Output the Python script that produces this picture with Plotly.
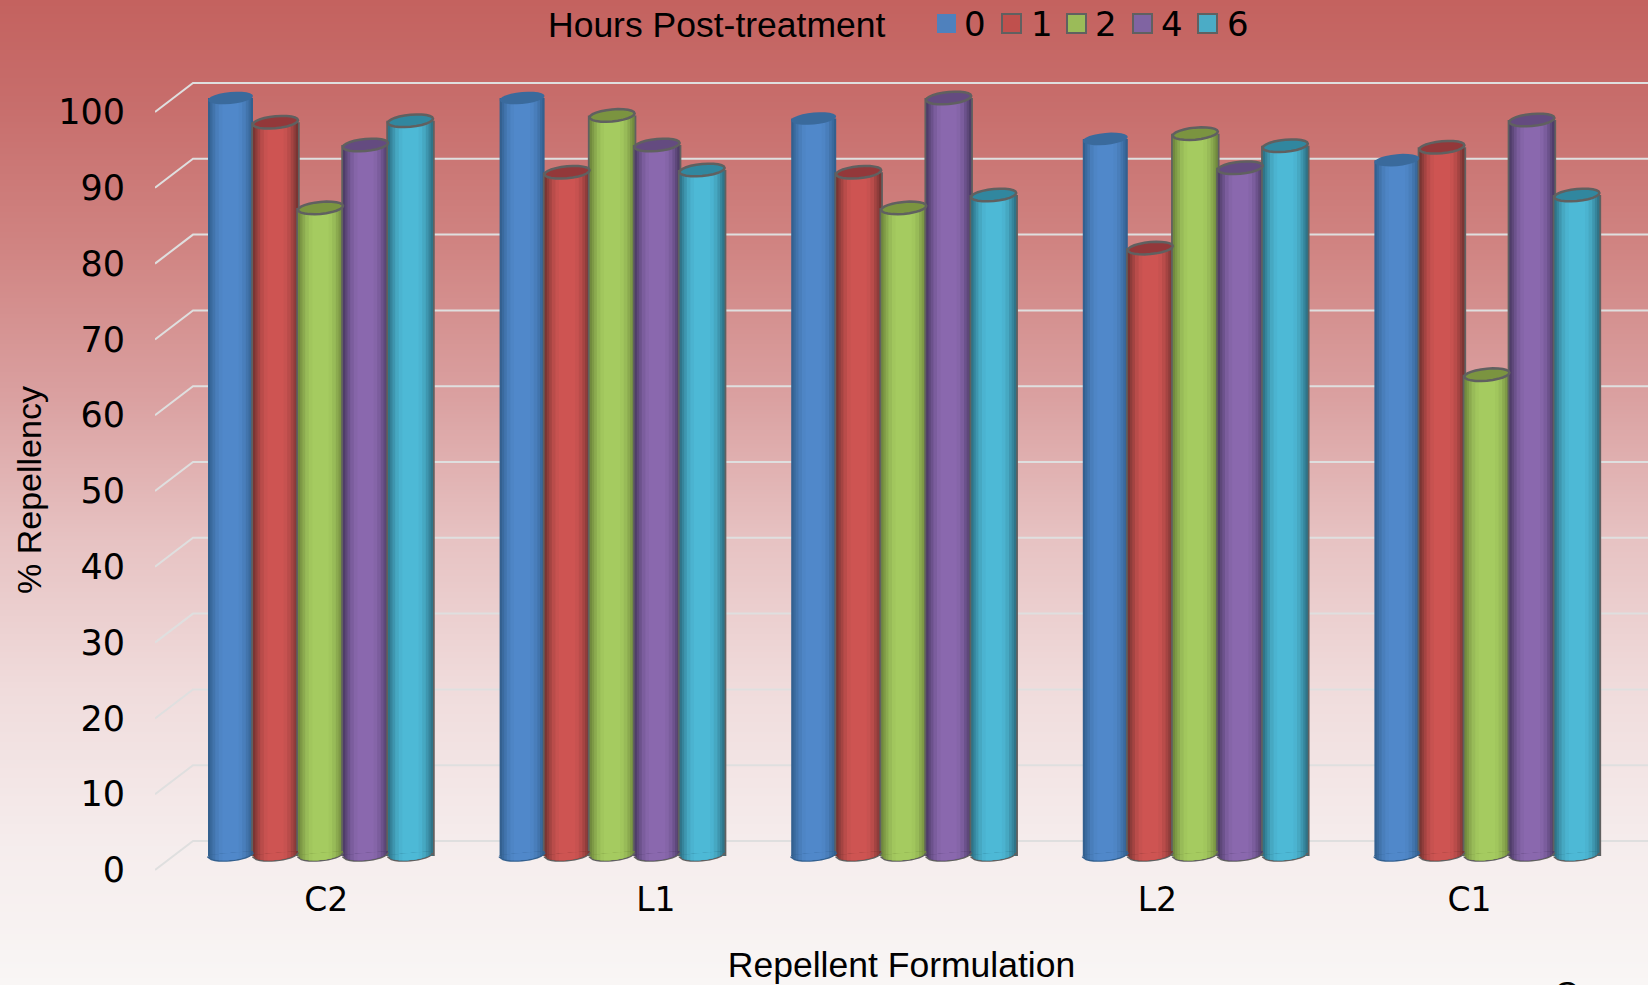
import math
import plotly.graph_objects as go

# ---- data ----
categories = ["C2", "L1", "", "L2", "C1"]
label_positions = [0.02, 1.15, 2.0, 2.87, 3.94]   # the category labels sit off-centre in the source
hours = ["0", "1", "2", "4", "6"]
legend_title = "Hours Post-treatment"
h0 = [100, 100, 97.3, 94.6, 91.8]
h1 = [96.8, 90.2, 90.2, 80.2, 93.5]
h2 = [85.5, 97.7, 85.5, 95.3, 63.5]
h4 = [93.8, 93.8, 100, 90.8, 97.1]
h6 = [97, 90.5, 87.2, 93.7, 87.2]
series = [h0, h1, h2, h4, h6]
y_ticks = [0, 10, 20, 30, 40, 50, 60, 70, 80, 90, 100]

legend_colors = ["#4f81bd", "#c0504d", "#9bbb59", "#8064a2", "#4bacc6"]
edge_colors = ["#33608f", "#7a3533", "#718a3e", "#4f3d69", "#2f7488"]
center_colors = ["#5088ca", "#ce5452", "#a5cb60", "#8a68ae", "#4db9d6"]
top_colors = ["#3a6a9c", "#93383a", "#7b9440", "#644b80", "#31879f"]
outline = "#606060"
grid_color = "#dfdfdf"

# ---- geometry of the pseudo-3D drawing ----
W, H = 1648, 985
L_PX, R_PX = 155, 1648
T_PX, B_PX = 72, 877
Y0_PX, PX_PER_UNIT = 870, 7.58
X0_PX, PX_PER_GROUP = 320.5, 291.6
SLOT = 45.0 / PX_PER_GROUP
BASE = 14 / PX_PER_UNIT
DEPTH_Y = 29 / PX_PER_UNIT
DEPTH_X = 38 / PX_PER_GROUP
A_PX, B_ELL_PX, TILT = 22.5, 6.0, 0.09
LEGEND_SWATCH_PX = [937, 1002, 1067, 1133, 1198]
LEGEND_TEXT_PX = [975, 1042, 1106, 1172, 1238]
FONT_T = "DejaVu Sans"
FONT_S = "Liberation Sans"

x_lo = (L_PX - X0_PX) / PX_PER_GROUP
x_hi = (R_PX - X0_PX) / PX_PER_GROUP
y_lo = -(B_PX - Y0_PX) / PX_PER_UNIT
y_hi = (Y0_PX - T_PX) / PX_PER_UNIT


def hexrgb(c):
    return tuple(int(c[i:i + 2], 16) for i in (1, 3, 5))


def mix(c1, c2, t):
    a, b = hexrgb(c1), hexrgb(c2)
    return "rgb(%d,%d,%d)" % tuple(round(a[i] + (b[i] - a[i]) * t) for i in range(3))


def ellipse_pt(cx, cy, u, v):
    """u, v in [-1, 1]: position on the tilted ellipse; v>0 is towards the viewer (lower)."""
    dx = A_PX * u
    dy = -B_ELL_PX * v + TILT * dx
    return cx + dx / PX_PER_GROUP, cy + dy / PX_PER_UNIT


def path(points):
    return "M" + " L".join("%.5f,%.4f" % p for p in points) + " Z"


ANGLES = [i / 24 for i in range(25)]


def ellipse_path(cx, cy):
    return path([ellipse_pt(cx, cy, math.cos(2 * math.pi * t), math.sin(2 * math.pi * t)) for t in ANGLES])


def crescent_path(cx, cy, f):
    pts = []
    for i in range(13):
        u = -f + 2 * f * i / 12
        pts.append(ellipse_pt(cx, cy, u, math.sqrt(max(0.0, 1 - u * u))))
    pts.append(ellipse_pt(cx, cy + 1 / PX_PER_UNIT, f, 0.0))
    pts.append(ellipse_pt(cx, cy + 1 / PX_PER_UNIT, -f, 0.0))
    return path(pts)


shade_layers = [(1.0, 0.0), (0.9, 0.25), (0.8, 0.5), (0.68, 0.75), (0.52, 0.92), (0.36, 1.0)]

stops = [(0, "#c4625f"), (0.1, "#c76d6b"), (0.25, "#d08482"), (0.4, "#daa0a0"),
         (0.55, "#e7c3c3"), (0.7, "#f0dcdc"), (0.85, "#f5ecec"), (1, "#f9f6f5")]


def bg_color(t):
    for (a, ca), (b, cb) in zip(stops, stops[1:]):
        if t <= b:
            return mix(ca, cb, (t - a) / (b - a))
    return stops[-1][1]


def paper_y(px):
    return 1 - px / H


def paper_x(px):
    return px / W


shapes = []
# page background gradient
for py in range(0, H, 2):
    shapes.append(dict(type="rect", xref="paper", yref="paper", layer="below",
                       x0=0, x1=1, y0=paper_y(py), y1=0,
                       line_width=0, fillcolor=bg_color(py / H)))
# gridlines: a slanted floor part then the back wall
for v in y_ticks:
    shapes.append(dict(type="path", xref="x", yref="y", layer="below",
                       path="M%.5f,%.4f L%.5f,%.4f L%.5f,%.4f" % (x_lo, v, x_lo + DEPTH_X, v + DEPTH_Y, x_hi, v + DEPTH_Y),
                       line=dict(color=grid_color, width=2)))

fig = go.Figure()
top_shapes = []
for s, vals in enumerate(series):
    xs = [g + (s - 2) * SLOT for g in range(len(vals))]
    has_line = s != 0
    if has_line:
        fig.add_trace(go.Bar(x=xs, y=vals, base=BASE, width=SLOT + 3.5 / PX_PER_GROUP, name=hours[s],
                             marker=dict(color=outline, line_width=0), hoverinfo="skip"))
    for f, t in shade_layers:
        col = mix(edge_colors[s], center_colors[s], t)
        fig.add_trace(go.Bar(x=xs, y=vals, base=BASE, width=SLOT * f, name=hours[s],
                             marker=dict(color=col, line_width=0), hoverinfo="skip"))
    for x, v in zip(xs, vals):
        top_shapes.append(dict(type="path", xref="x", yref="y", layer="above",
                               path=crescent_path(x, BASE + 0.5 / PX_PER_UNIT, 1.04),
                               line_width=0, fillcolor=outline if has_line else edge_colors[s]))
        for f, t in shade_layers:
            top_shapes.append(dict(type="path", xref="x", yref="y", layer="above",
                                   path=crescent_path(x, BASE + 2 / PX_PER_UNIT, f),
                                   line_width=0, fillcolor=mix(edge_colors[s], center_colors[s], t)))
        top_shapes.append(dict(type="path", xref="x", yref="y", layer="above", path=ellipse_path(x, v + BASE),
                               fillcolor=top_colors[s],
                               line=dict(color=outline, width=2.5 if has_line else 0)))

# empty trace that brings in a page-tall helper axis for the clipped character at the bottom
fig.add_trace(go.Scatter(x=[], y=[], yaxis="y2", showlegend=False, hoverinfo="skip"))

# legend, placed by hand: the native one cannot sit this close to the top edge
legend_shapes = []
legend_notes = [dict(text=legend_title, xref="paper", yref="paper", x=paper_x(546), y=paper_y(25),
                     xanchor="left", yanchor="middle", showarrow=False,
                     font=dict(family=FONT_S, size=35.5, color="#000000"))]
for s, label in enumerate(hours):
    legend_shapes.append(dict(type="rect", xref="paper", yref="paper", layer="above",
                              x0=paper_x(LEGEND_SWATCH_PX[s]), x1=paper_x(LEGEND_SWATCH_PX[s] + 19),
                              y0=paper_y(33), y1=paper_y(14), fillcolor=legend_colors[s],
                              line=dict(color=outline, width=2 if s else 0)))
    legend_notes.append(dict(text=label, xref="paper", yref="paper", x=paper_x(LEGEND_TEXT_PX[s]), y=paper_y(24),
                             xanchor="center", yanchor="middle", showarrow=False,
                             font=dict(family=FONT_T, size=34, color="#000000")))

fig.update_layout(
    width=W, height=H, autosize=False, barmode="overlay",
    margin=dict(l=0, r=0, t=0, b=0),
    paper_bgcolor="#f9f6f5", plot_bgcolor="rgba(0,0,0,0)",
    shapes=shapes + top_shapes + legend_shapes,
    showlegend=False,
    xaxis=dict(domain=[L_PX / W, 1], range=[x_lo, x_hi], showgrid=False, zeroline=False, showline=False, automargin=False,
               tickmode="array", tickvals=label_positions, ticktext=categories, ticks="",
               tickfont=dict(family=FONT_T, size=33, color="#000000"),
               title=dict(text="Repellent Formulation", standoff=35, font=dict(family=FONT_S, size=35.5, color="#000000"))),
    yaxis=dict(domain=[1 - B_PX / H, 1 - T_PX / H], range=[y_lo, y_hi], showgrid=False, zeroline=False, showline=False,
               automargin=False, tickmode="array", tickvals=y_ticks, ticks="outside", ticklen=22, tickcolor="rgba(0,0,0,0)",
               tickfont=dict(family=FONT_T, size=35, color="#000000")),
    yaxis2=dict(domain=[0, 1], range=[H, 0], visible=False, anchor="x", automargin=False),
    annotations=legend_notes + [
        dict(text="% Repellency", xref="paper", yref="paper", x=paper_x(29), y=paper_y(490), textangle=-90,
             xanchor="center", yanchor="middle", showarrow=False, font=dict(family=FONT_S, size=34, color="#000000")),
        dict(text="C", xref="x", yref="y2", x=(1566 - X0_PX) / PX_PER_GROUP, y=972, xanchor="center", yanchor="top",
             showarrow=False, font=dict(family=FONT_S, size=34, color="#000000")),
    ],
)
fig.write_html("out.html", config=dict(displayModeBar=False),
               post_script="document.body.style.margin='0';document.documentElement.style.overflow='hidden';")
